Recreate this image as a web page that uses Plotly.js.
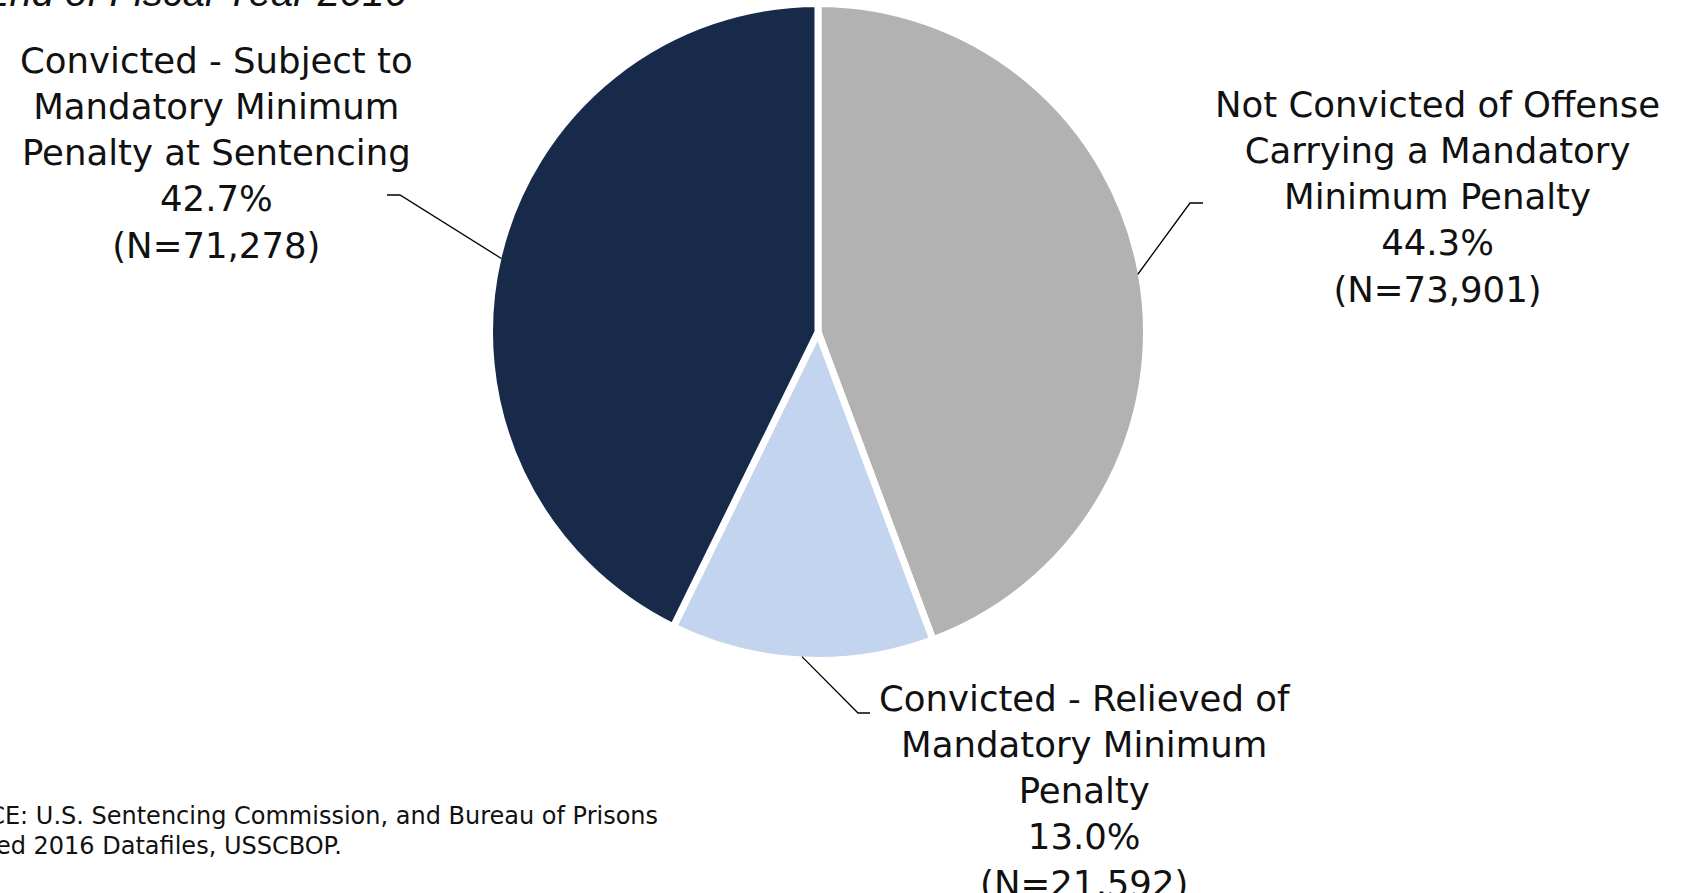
<!DOCTYPE html>
<html>
<head>
<meta charset="utf-8">
<script src="https://cdn.plot.ly/plotly-3.0.1.min.js"></script>
<style>
  html, body { margin: 0; padding: 0; background: #ffffff; }
  #chart { width: 1681px; height: 893px; }
</style>
</head>
<body>
<div id="chart"></div>
<script>
// ---- data ----
const categories = [
  "Not Convicted of Offense Carrying a Mandatory Minimum Penalty",
  "Convicted - Relieved of Mandatory Minimum Penalty",
  "Convicted - Subject to Mandatory Minimum Penalty at Sentencing"
];
const labelLines = [
  ["Not Convicted of Offense", "Carrying a Mandatory", "Minimum Penalty"],
  ["Convicted - Relieved of", "Mandatory Minimum", "Penalty"],
  ["Convicted - Subject to", "Mandatory Minimum", "Penalty at Sentencing"]
];
const counts = [73901, 21592, 71278];
const pctLabels = ["44.3%", "13.0%", "42.7%"];
const sliceColors = ["#b2b2b2", "#c3d5ee", "#172a4a"];
const titleText = "Federal Offenders in Custody at the End of Fiscal Year 2016";
const sourceLines = [
  "SOURCE: U.S. Sentencing Commission, and Bureau of Prisons",
  "Combined 2016 Datafiles, USSCBOP."
];

// ---- layout geometry (pixels) ----
const W = 1681, H = 893;
const CX = 818, CY = 332, R = 325;      // visible pie centre / radius
const BORDER = 7;
const labelPos = [
  { x: 1437, y: 197, elbow: [1190, 203], end: [1203, 203] },
  { x: 1085, y: 791, elbow: [858, 713],  end: [870, 713] },
  { x: 216,  y: 153, elbow: [400, 195],  end: [387, 195] }
];

const px = v => v / W;
const py = v => 1 - v / H;

const total = counts.reduce((a, b) => a + b, 0);
const fmtN = n => n.toLocaleString("en-US");

// slice mid-angles (clockwise from 12 o'clock) for leader lines
let cum = 0;
const midAngles = counts.map(c => {
  const a = (cum + c / 2) / total * 2 * Math.PI;
  cum += c;
  return a;
});

const Rd = R + BORDER / 2;
const trace = {
  type: "pie",
  values: counts,
  labels: categories,
  sort: false,
  direction: "clockwise",
  rotation: 0,
  textinfo: "none",
  hoverinfo: "label+value+percent",
  showlegend: false,
  marker: { colors: sliceColors, line: { color: "#ffffff", width: BORDER } },
  domain: {
    x: [px(CX - Rd), px(CX + Rd)],
    y: [py(CY + Rd), py(CY - Rd)]
  }
};

const annotations = [];
const shapes = [];
const labelFont = { family: "DejaVu Sans", size: 35.5, color: "#111111" };

counts.forEach((c, i) => {
  const text = labelLines[i].concat([pctLabels[i], "(N=" + fmtN(c) + ")"]).join("<br>");
  const p = labelPos[i];
  annotations.push({
    xref: "paper", yref: "paper",
    x: px(p.x), y: py(p.y),
    xanchor: "center", yanchor: "middle",
    align: "center",
    text: text, showarrow: false,
    font: labelFont
  });
  const ex = CX + R * Math.sin(midAngles[i]);
  const ey = CY - R * Math.cos(midAngles[i]);
  shapes.push({
    type: "path", xref: "paper", yref: "paper",
    path: "M " + px(ex) + " " + py(ey) +
          " L " + px(p.elbow[0]) + " " + py(p.elbow[1]) +
          " L " + px(p.end[0]) + " " + py(p.end[1]),
    line: { color: "#000000", width: 1.3 }
  });
});

// title (cut off at top of the frame)
annotations.push({
  xref: "paper", yref: "paper",
  x: px(410), y: py(16),
  xanchor: "right", yanchor: "bottom",
  text: "<i>" + titleText + "</i>", showarrow: false,
  font: { family: "Liberation Sans", size: 40, color: "#111111" }
});

// source note
const srcRight = [660, 344];
const srcY = [816, 846];
sourceLines.forEach((t, i) => {
  annotations.push({
    xref: "paper", yref: "paper",
    x: px(srcRight[i]), y: py(srcY[i]),
    xanchor: "right", yanchor: "middle",
    text: t, showarrow: false,
    font: { family: "DejaVu Sans", size: 24, color: "#111111" }
  });
});

const layout = {
  width: W, height: H,
  margin: { l: 0, r: 0, t: 0, b: 0, pad: 0 },
  paper_bgcolor: "#ffffff",
  plot_bgcolor: "#ffffff",
  showlegend: false,
  annotations: annotations,
  shapes: shapes
};

Plotly.newPlot("chart", [trace], layout, { displayModeBar: false, staticPlot: true });
</script>
</body>
</html>
